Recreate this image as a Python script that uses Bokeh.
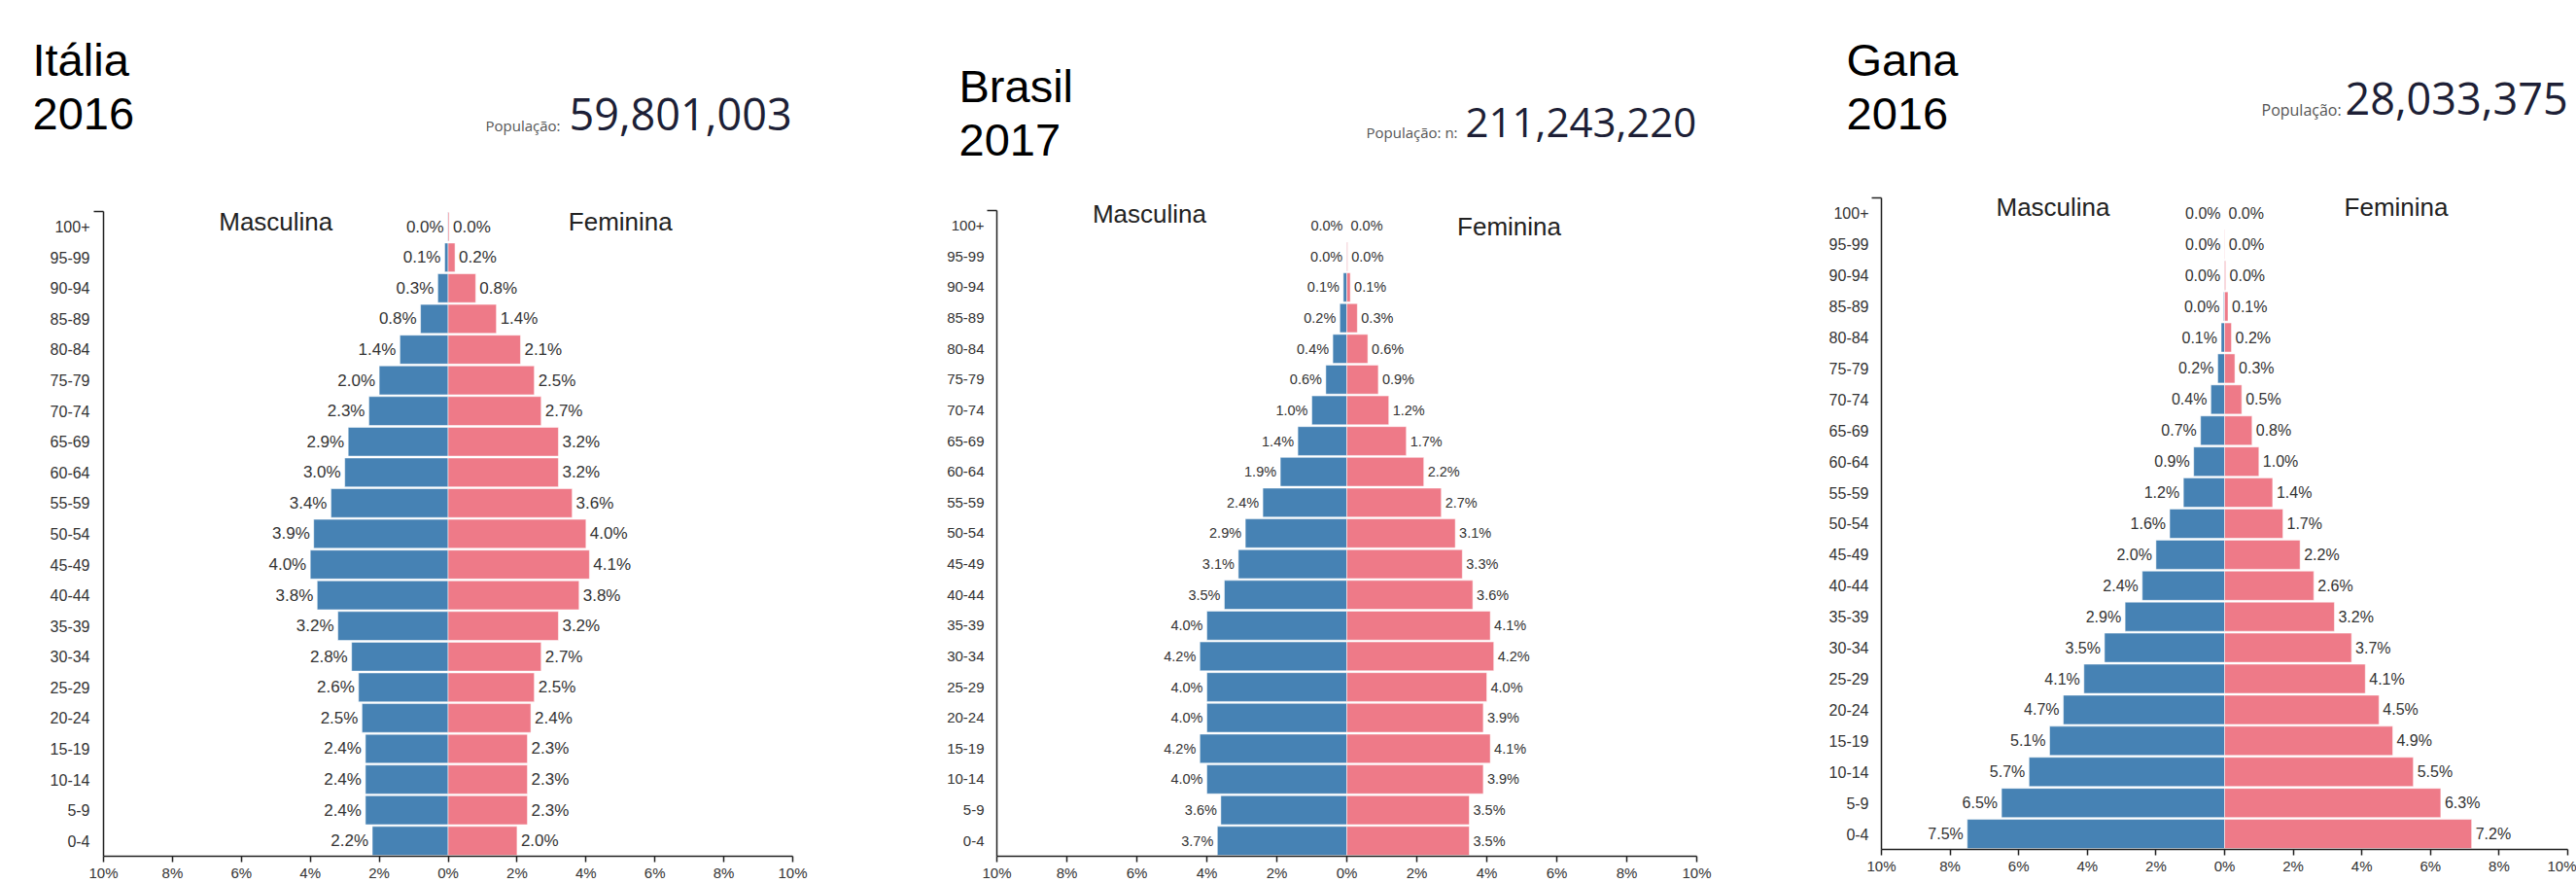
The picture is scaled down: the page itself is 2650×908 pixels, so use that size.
from bokeh.plotting import figure
from bokeh.layouts import column, row
from bokeh.models import Range1d, FixedTicker, ColumnDataSource
from bokeh.core.properties import value
from bokeh.embed import file_html
from bokeh.resources import INLINE

# ---------------- data ----------------
faixas = ["100+", "95-99", "90-94", "85-89", "80-84", "75-79", "70-74", "65-69",
          "60-64", "55-59", "50-54", "45-49", "40-44", "35-39", "30-34", "25-29",
          "20-24", "15-19", "10-14", "5-9", "0-4"]

italia_masc = [0.01, 0.1, 0.3, 0.8, 1.4, 2.0, 2.3, 2.9, 3.0, 3.4, 3.9, 4.0, 3.8,
               3.2, 2.8, 2.6, 2.5, 2.4, 2.4, 2.4, 2.2]
italia_fem = [0.03, 0.2, 0.8, 1.4, 2.1, 2.5, 2.7, 3.2, 3.2, 3.6, 4.0, 4.1, 3.8,
              3.2, 2.7, 2.5, 2.4, 2.3, 2.3, 2.3, 2.0]

brasil_masc = [0.0, 0.01, 0.1, 0.2, 0.4, 0.6, 1.0, 1.4, 1.9, 2.4, 2.9, 3.1, 3.5,
               4.0, 4.2, 4.0, 4.0, 4.2, 4.0, 3.6, 3.7]
brasil_fem = [0.0, 0.02, 0.1, 0.3, 0.6, 0.9, 1.2, 1.7, 2.2, 2.7, 3.1, 3.3, 3.6,
              4.1, 4.2, 4.0, 3.9, 4.1, 3.9, 3.5, 3.5]

gana_masc = [0.0, 0.0, 0.01, 0.03, 0.1, 0.2, 0.4, 0.7, 0.9, 1.2, 1.6, 2.0, 2.4,
             2.9, 3.5, 4.1, 4.7, 5.1, 5.7, 6.5, 7.5]
gana_fem = [0.0, 0.01, 0.03, 0.1, 0.2, 0.3, 0.5, 0.8, 1.0, 1.4, 1.7, 2.2, 2.6,
            3.2, 3.7, 4.1, 4.5, 4.9, 5.5, 6.3, 7.2]

paises = ["Itália", "Brasil", "Gana"]
anos = ["2016", "2017", "2016"]
pop_rotulos = ["População:", "População: n:", "População:"]
populacoes = ["59,801,003", "211,243,220", "28,033,375"]
rotulo_masc = "Masculina"
rotulo_fem = "Feminina"

x_ticks = [-10, -8, -6, -4, -2, 0, 2, 4, 6, 8, 10]
x_tick_labels = ["10%", "8%", "6%", "4%", "2%", "0%", "2%", "4%", "6%", "8%", "10%"]

# ---------------- style / layout ----------------
BLUE = "#4682b4"
PINK = "#ee7a88"
AXIS = "#222222"
TXT = "#333333"
SANS = "Liberation Sans"
K_SANS = 0.35    # baseline -> middle offset (fraction of font size)
K_OPEN = 0.39

PAGE_W = 2650
PAGE_H = 908
HEADER_H = 185          # header band height (page y 0..185)
BOTTOM_B = 26           # space below the x axis for ticks + labels

# header: titles and population numbers (page pixel coordinates)
header = figure(width=PAGE_W, height=HEADER_H,
                x_range=Range1d(0, PAGE_W), y_range=Range1d(HEADER_H, 0),
                x_axis_type=None, y_axis_type=None, output_backend="svg",
                toolbar_location=None, min_border=0, outline_line_color=None)
header.grid.visible = False

TITLE_SIZE = 47
title_x = [33, 986, 1899]
title_base1 = [77, 104, 77]
title_base2 = [133, 160, 133]
header.text(x=title_x, y=[b - K_SANS * TITLE_SIZE for b in title_base1], text=paises,
            text_font=value(SANS), text_font_size=f"{TITLE_SIZE}px",
            text_color="#000000", text_baseline="middle")
header.text(x=title_x, y=[b - K_SANS * TITLE_SIZE for b in title_base2], text=anos,
            text_font=value(SANS), text_font_size=f"{TITLE_SIZE}px",
            text_color="#000000", text_baseline="middle")

pop_lab_x = [499, 1405, 2326]
pop_lab_base = [134, 141, 119]
pop_lab_size = [15, 15, 16]
pop_num_x = [585, 1507, 2412]
pop_num_base = [135, 142, 119]
pop_num_size = [45, 42, 45]
for i in range(3):
    header.text(x=[pop_lab_x[i]], y=[pop_lab_base[i] - K_OPEN * pop_lab_size[i]],
                text=[pop_rotulos[i]], text_font=value("Open Sans"),
                text_font_size=f"{pop_lab_size[i]}px",
                text_color="#555555", text_baseline="middle")
    header.text(x=[pop_num_x[i]], y=[pop_num_base[i] - K_OPEN * pop_num_size[i]],
                text=[populacoes[i]], text_font=value("Open Sans"),
                text_font_size=f"{pop_num_size[i]}px",
                text_color="#1d1f36", text_baseline="middle")


def make_chart(masc, fem, page_left, width, frame_left, frame_right, axis_top,
               axis_bottom, val_size, tick_size, tick_standoff, lab_masc, lab_fem):
    n = len(faixas)
    band = (axis_bottom - axis_top) / n
    y_end = -0.5 + (axis_bottom - HEADER_H) / band
    page_right = page_left + width
    p = figure(width=width, height=axis_bottom + BOTTOM_B - HEADER_H,
               x_range=Range1d(-10, 10), y_range=Range1d(-0.5, y_end),
               output_backend="svg", toolbar_location=None,
               min_border_left=frame_left - page_left,
               min_border_right=page_right - frame_right,
               min_border_top=0, min_border_bottom=BOTTOM_B,
               outline_line_color=None)
    p.grid.visible = False

    ys = [n - 1 - i for i in range(n)]
    src = ColumnDataSource(dict(
        y=ys,
        neg=[-v for v in masc],
        fem=fem,
        mlab=[f"{v:.1f}%" for v in masc],
        flab=[f"{v:.1f}%" for v in fem],
    ))
    p.hbar(y="y", left="neg", right=0, height=0.94, source=src,
           fill_color=BLUE, line_color="white", line_alpha=0.5, line_width=1)
    p.hbar(y="y", left=0, right="fem", height=0.94, source=src,
           fill_color=PINK, line_color="white", line_alpha=0.5, line_width=1)
    p.text(x="neg", y="y", text="mlab", source=src, x_offset=-4,
           text_align="right", text_baseline="middle", text_font=value(SANS),
           text_font_size=val_size, text_color=TXT)
    p.text(x="fem", y="y", text="flab", source=src, x_offset=4,
           text_align="left", text_baseline="middle", text_font=value(SANS),
           text_font_size=val_size, text_color=TXT)

    # side labels (data x, page-pixel baseline)
    side_size = 26
    for (lx, py), label in ((lab_masc, rotulo_masc), (lab_fem, rotulo_fem)):
        mid = py - K_SANS * side_size
        ly = -0.5 + (axis_bottom - mid) / band
        p.text(x=[lx], y=[ly], text=[label], text_align="center",
               text_baseline="middle", text_font=value(SANS),
               text_font_size=f"{side_size}px", text_color="#222222")

    # y axis
    ya = p.yaxis[0]
    ya.ticker = FixedTicker(ticks=ys, minor_ticks=[n - 0.5])
    ya.major_label_overrides = {y: faixas[i] for i, y in enumerate(ys)}
    ya.bounds = (-0.5, n - 0.5)
    ya.major_tick_out = 0
    ya.major_tick_in = 0
    ya.minor_tick_out = 10
    ya.minor_tick_in = 0
    ya.minor_tick_line_color = AXIS
    ya.minor_tick_line_width = 1.5
    ya.axis_line_color = AXIS
    ya.axis_line_width = 1.5
    ya.major_label_standoff = tick_standoff
    ya.major_label_text_font = SANS
    ya.major_label_text_font_size = tick_size
    ya.major_label_text_color = TXT

    # x axis
    xa = p.xaxis[0]
    xa.ticker = FixedTicker(ticks=x_ticks)
    xa.major_label_overrides = {t: l for t, l in zip(x_ticks, x_tick_labels)}
    xa.major_tick_out = 6
    xa.major_tick_in = 0
    xa.major_tick_line_color = AXIS
    xa.major_tick_line_width = 1.5
    xa.axis_line_color = AXIS
    xa.axis_line_width = 1.5
    xa.major_label_text_font = SANS
    xa.major_label_text_color = TXT
    xa.major_label_text_font_size = "15px"
    xa.major_label_standoff = 2
    return p


AX_LOW = PAGE_H - BOTTOM_B   # lowest possible x-axis position within the window
c1 = make_chart(italia_masc, italia_fem, 0, 900, 106, 815, 217, AX_LOW,
                "17px", "16px", 4, (-5.0, 237), (5.0, 237))
c2 = make_chart(brasil_masc, brasil_fem, 900, 900, 1025, 1745, 216, AX_LOW,
                "14.5px", "15px", 3, (-5.64, 229), (4.64, 242))
c3 = make_chart(gana_masc, gana_fem, 1800, 850, 1935, 2641, 203, 875,
                "16px", "16px", 3, (-5.0, 222), (5.0, 222))

layout = column(header, row(c1, c2, c3))
open("out.html", "w").write(file_html(layout, INLINE))
